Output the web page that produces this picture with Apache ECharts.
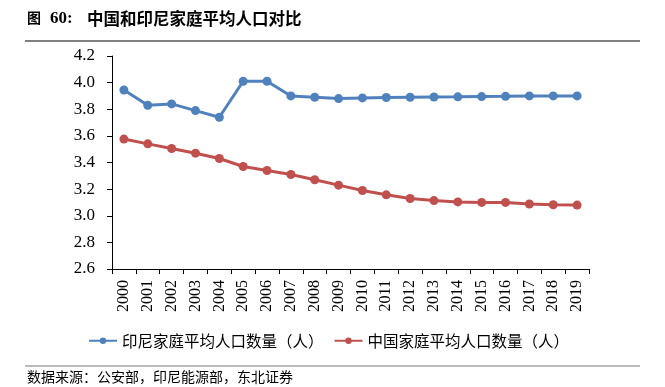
<!DOCTYPE html>
<html><head><meta charset="utf-8">
<script src="https://cdn.jsdelivr.net/npm/echarts@6/dist/echarts.min.js"></script>
<style>html,body{margin:0;padding:0;background:#fff}#c{width:665px;height:387px}</style>
</head><body><div id="c"></div>
<script>
var years = ['2000','2001','2002','2003','2004','2005','2006','2007','2008','2009','2010','2011','2012','2013','2014','2015','2016','2017','2018','2019'];
var indonesia = [3.945,3.83,3.84,3.79,3.74,4.01,4.01,3.90,3.89,3.88,3.885,3.888,3.89,3.892,3.893,3.895,3.897,3.90,3.90,3.90];
var china = [3.576,3.54,3.505,3.47,3.43,3.37,3.34,3.31,3.27,3.23,3.19,3.157,3.13,3.114,3.104,3.10,3.10,3.088,3.083,3.08];
var seriesNames = ['印尼家庭平均人口数量（人）','中国家庭平均人口数量（人）'];
var titleLabel = '图';
var titleNum = '60:';
var titleText = '中国和印尼家庭平均人口对比';
var sourceText = '数据来源：公安部，印尼能源部，东北证券';

var chart = echarts.init(document.getElementById('c'));
var serif = '"Liberation Serif","DejaVu Serif",serif';
var cjk = '"Noto Sans CJK SC","Liberation Serif",serif';
chart.setOption({
  animation:false,
  grid:{left:112,right:76,top:56,bottom:118},
  legend:{
    top:328,left:83,itemWidth:28,itemHeight:8,itemGap:10,
    textStyle:{fontFamily:cjk,fontSize:15.5,color:'#000'},
    data:seriesNames
  },
  xAxis:{
    type:'category',data:years,boundaryGap:true,
    axisLine:{lineStyle:{color:'#000',width:1}},
    axisTick:{show:true,length:5,lineStyle:{color:'#000'}},
    axisLabel:{rotate:90,fontFamily:serif,fontSize:16,color:'#000',margin:11,interval:0}
  },
  yAxis:{
    type:'value',min:2.6,max:4.2,interval:0.2,
    axisLine:{show:true,lineStyle:{color:'#000',width:1}},
    axisTick:{show:true,length:5,lineStyle:{color:'#000'}},
    splitLine:{show:false},
    axisLabel:{fontFamily:serif,fontSize:17,color:'#000',margin:17,formatter:function(v){return v.toFixed(1);}}
  },
  series:[
    {name:seriesNames[0],type:'line',data:indonesia,symbol:'circle',symbolSize:9,
     lineStyle:{width:3,color:'#4F81BD'},itemStyle:{color:'#4F81BD'}},
    {name:seriesNames[1],type:'line',data:china,symbol:'circle',symbolSize:9,
     lineStyle:{width:3,color:'#C0504D'},itemStyle:{color:'#C0504D'}}
  ],
  graphic:[
    {type:'text',left:27,top:11,style:{text:titleLabel,fontFamily:cjk,fontSize:14,fontWeight:'bold',fill:'#000'}},
    {type:'text',left:50,top:10,style:{text:titleNum,fontFamily:serif,fontSize:17,fontWeight:'bold',fill:'#000'}},
    {type:'text',left:87,top:10,style:{text:titleText,fontFamily:cjk,fontSize:16.5,fontWeight:'bold',fill:'#000'}},
    {type:'line',shape:{x1:25,y1:41,x2:640,y2:41},style:{stroke:'#555',lineWidth:1.5}},
    {type:'line',shape:{x1:25,y1:366,x2:640,y2:366},style:{stroke:'#777',lineWidth:1}},
    {type:'text',left:27,top:370,style:{text:sourceText,fontFamily:cjk,fontSize:14,fill:'#000'}}
  ]
});
</script></body></html>
